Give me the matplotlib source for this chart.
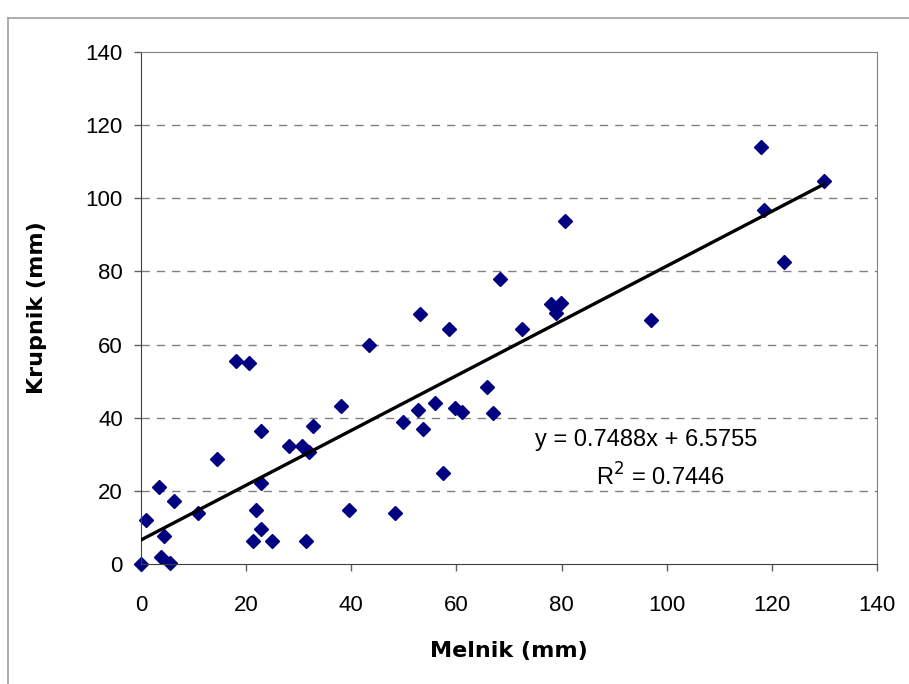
import numpy as np
import matplotlib.pyplot as plt
from matplotlib.lines import Line2D

# Data
melnik = [0, 1.0, 3.5, 4.4, 3.8, 5.5, 6.3, 10.9, 14.5, 18.1, 20.6, 22.9,
          22.8, 21.9, 22.9, 21.4, 25.0, 28.2, 30.6, 32.0, 32.7, 31.4, 38.0,
          39.6, 43.4, 48.3, 49.9, 52.7, 53.1, 53.6, 55.9, 57.4, 58.5, 59.8,
          61.0, 65.8, 67.0, 68.2, 72.4, 77.9, 78.9, 79.9, 80.7, 97.0, 117.9,
          118.5, 122.4, 130.0]
krupnik = [0, 12.0, 21.1, 7.7, 2.0, 0.2, 17.3, 13.9, 28.7, 55.4, 54.9, 36.5,
           22.1, 14.8, 9.7, 6.2, 6.2, 32.4, 32.4, 30.5, 37.8, 6.2, 43.2,
           14.8, 60.0, 13.9, 38.9, 42.1, 68.4, 36.9, 44.1, 25.0, 64.2, 42.7,
           41.7, 48.3, 41.2, 78.0, 64.2, 71.1, 68.7, 71.5, 93.9, 66.7, 113.9,
           96.8, 82.7, 104.7]

slope = 0.7488
intercept = 6.5755
r2 = 0.7446

axis_ticks = [0, 20, 40, 60, 80, 100, 120, 140]

plt.rcParams['font.family'] = ['Liberation Sans', 'DejaVu Sans']

fig = plt.figure(figsize=(9.09, 6.84), dpi=100)
ax = fig.add_axes([0.1551, 0.1754, 0.8097, 0.7486])

# outer chart border (left and top visible)
fig.add_artist(Line2D([8 / 909, 8 / 909], [0, 1 - 18 / 684],
                      transform=fig.transFigure, color='#a0a0a0', lw=1.2))
fig.add_artist(Line2D([8 / 909, 1], [1 - 18 / 684, 1 - 18 / 684],
                      transform=fig.transFigure, color='#a0a0a0', lw=1.2))

# grid
for y in axis_ticks[1:-1]:
    ax.axhline(y, color='#808080', lw=1, ls=(0, (6, 5)), zorder=0)

ax.plot(melnik, krupnik, ls='none', marker='D', ms=7.5, color='#000080',
        mec='#000080', clip_on=False, zorder=2)

xfit = np.array([0, max(melnik)])
ax.plot(xfit, slope * xfit + intercept, color='black', lw=2.4, zorder=3)

ax.text(646 / 909, 1 - 440 / 684, f'y = {slope}x + {intercept}',
        transform=fig.transFigure, fontsize=17, ha='center', va='center')
ax.text(660 / 909, 1 - 477 / 684, f'R$^2$ = {r2}',
        transform=fig.transFigure, fontsize=17, ha='center', va='center')

ax.set_xlim(0, 140)
ax.set_ylim(0, 140)
ax.set_xticks(axis_ticks)
ax.set_yticks(axis_ticks)
ax.tick_params(direction='out', length=5, width=1, color='#606060',
               labelsize=16, pad=8)
ax.tick_params(axis='x', pad=17)

for side in ['left', 'bottom']:
    ax.spines[side].set_color('#404040')
for side in ['top', 'right']:
    ax.spines[side].set_color('#808080')

ax.set_xlabel('Melnik (mm)', fontsize=16, fontweight='bold',
              family='DejaVu Sans', labelpad=18)
ax.set_ylabel('Krupnik (mm)', fontsize=16, fontweight='bold',
              family='DejaVu Sans', labelpad=28)

fig.savefig('out.png', dpi=100)
